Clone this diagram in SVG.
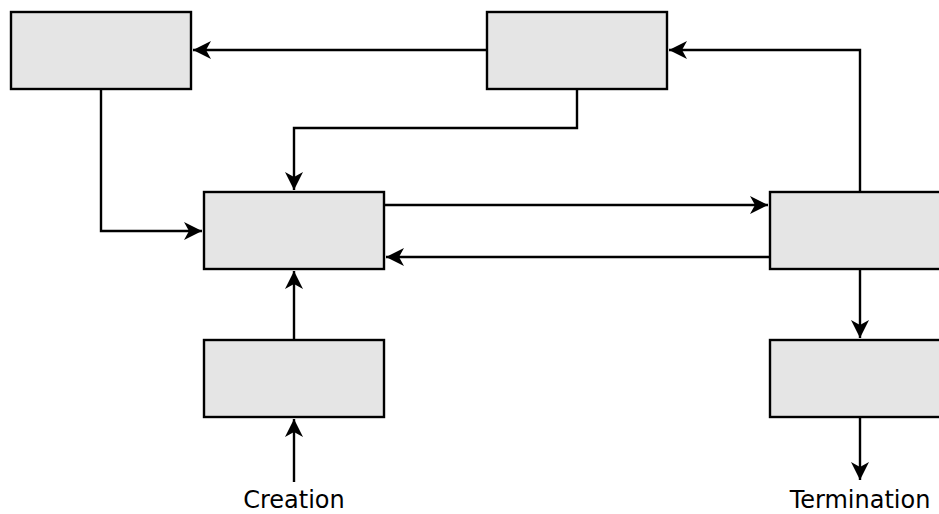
<svg xmlns="http://www.w3.org/2000/svg" width="939" height="514" viewBox="0 0 939 514">
<style>
.node{fill:#e5e5e5;stroke:#000;stroke-width:2.4}
.edge{fill:none;stroke:#000;stroke-width:2.4}
.label{font-family:"DejaVu Sans",sans-serif;font-size:24px;fill:#000;text-anchor:middle}
</style>
<defs>
<marker id="arr" markerUnits="userSpaceOnUse" markerWidth="22" markerHeight="22" viewBox="-20 -11 22 22" refX="0" refY="0" orient="auto">
<path d="M0,0 L-18,-9 L-13,0 L-18,9 Z" fill="#000"/>
</marker>
</defs>
<rect width="939" height="514" fill="#fff"/>
<g id="connectors">
<path class="edge" d="M487,50 H193" marker-end="url(#arr)"/>
<path class="edge" d="M101,89 V231 H202" marker-end="url(#arr)"/>
<path class="edge" d="M577,89 V128 H294 V190" marker-end="url(#arr)"/>
<path class="edge" d="M384,205 H768" marker-end="url(#arr)"/>
<path class="edge" d="M770,257 H386" marker-end="url(#arr)"/>
<path class="edge" d="M860,192 V50 H669" marker-end="url(#arr)"/>
<path class="edge" d="M294,340 V271" marker-end="url(#arr)"/>
<path class="edge" d="M294,482 V419" marker-end="url(#arr)"/>
<path class="edge" d="M860,269 V338" marker-end="url(#arr)"/>
<path class="edge" d="M860,417 V480" marker-end="url(#arr)"/>
</g>
<g id="nodeA"><rect class="node" x="11" y="12" width="180" height="77"/></g>
<g id="nodeB"><rect class="node" x="487" y="12" width="180" height="77"/></g>
<g id="nodeC"><rect class="node" x="204" y="192" width="180" height="77"/></g>
<g id="nodeD"><rect class="node" x="770" y="192" width="180" height="77"/></g>
<g id="nodeE"><rect class="node" x="204" y="340" width="180" height="77"/></g>
<g id="nodeF"><rect class="node" x="770" y="340" width="180" height="77"/></g>
<g id="labels">
<text class="label" x="294" y="508">Creation</text>
<text class="label" x="860" y="508">Termination</text>
</g>
</svg>
